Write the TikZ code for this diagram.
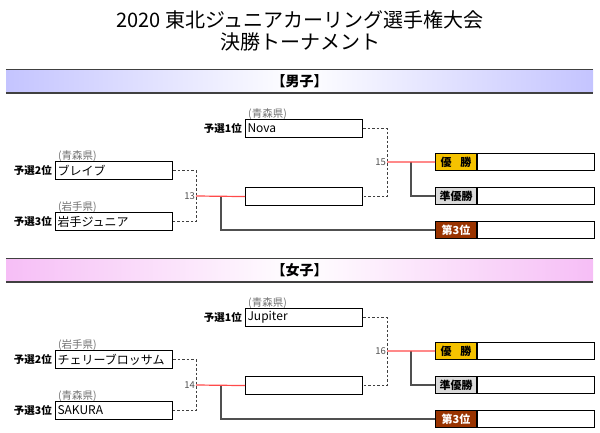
\documentclass[tikz,border=0pt]{standalone}
\usepackage{fontspec}
\setmainfont{Noto Sans CJK JP}
\definecolor{gold}{HTML}{F5C200}
\definecolor{silverbg}{HTML}{DADADA}
\definecolor{bronze}{HTML}{993300}
\definecolor{winred}{HTML}{FF4A4A}
\definecolor{conngray}{HTML}{505050}
\definecolor{dashgray}{HTML}{404040}
\definecolor{pref}{HTML}{707070}
\definecolor{menbg}{HTML}{C4C4FF}
\definecolor{womenbg}{HTML}{F6BEF6}
\begin{document}
\begin{tikzpicture}[x=1pt,y=-1pt,
  team/.style={draw=black,line width=1.1pt,fill=white,minimum height=18pt,text width=113pt,inner sep=2pt,align=left,anchor=north west,font=\fontsize{12}{12}\selectfont},
  rank/.style={anchor=east,inner sep=0pt,font=\bfseries\fontsize{10.5}{11}\selectfont},
  pref/.style={anchor=south west,inner sep=0pt,text=pref,font=\fontsize{10.5}{10.5}\selectfont},
  reslab/.style={draw=black,line width=1.1pt,minimum width=41pt,minimum height=17pt,inner sep=0pt,anchor=north west,font=\bfseries\fontsize{11}{11}\selectfont},
  resbox/.style={draw=black,line width=1.1pt,fill=white,minimum width=117pt,minimum height=17pt,inner sep=0pt,anchor=west},
  dashline/.style={draw=dashgray,line width=0.8pt,dash pattern=on 2.5pt off 2pt},
  redline/.style={draw=winred,line width=1.2pt},
  grayline/.style={draw=conngray,line width=1.2pt},
  num/.style={anchor=east,inner sep=1pt,text=conngray,font=\fontsize{9.5}{9.5}\selectfont},
  banner/.style={minimum width=587pt,minimum height=23pt,inner sep=0pt,font=\bfseries\fontsize{14}{14}\selectfont},
  title/.style={font=\fontsize{20}{20}\selectfont,inner sep=0pt}
]
\useasboundingbox (0,0) rectangle (600,433);
\node[title] (t1) at (300,20) {2020 東北ジュニアカーリング選手権大会};
\node[title] (t2) at (300,41.5) {決勝トーナメント};

% ===== Men =====
\node[banner,left color=menbg,right color=menbg,middle color=white] (mban) at (299.5,81.5) {【男子】};
\draw[draw=dashgray,line width=0.9pt] (mban.north west) -- (mban.north east);
\draw[draw=dashgray,line width=1.5pt] (mban.south west) -- (mban.south east);

\node[team] (nova) at (245,119) {Nova};
\node[team] (brave) at (55,161) {ブレイブ};
\node[team] (iwate) at (55,212) {岩手ジュニア};
\node[team] (msemi) at (245,187) {};
\node[rank] (rnova) at ([xshift=-3pt]nova.west) {予選1位};
\node[rank] (rbrave) at ([xshift=-3pt]brave.west) {予選2位};
\node[rank] (riwate) at ([xshift=-3pt]iwate.west) {予選3位};
\node[pref] (pnova) at ([xshift=3pt,yshift=-1pt]nova.north west) {(青森県)};
\node[pref] (pbrave) at ([xshift=3pt,yshift=-1pt]brave.north west) {(青森県)};
\node[pref] (piwate) at ([xshift=3pt,yshift=-1pt]iwate.north west) {(岩手県)};

\node[reslab,fill=gold] (mwin) at (435,153) {優\hspace{0.8em}勝};
\node[resbox] (mwinb) at (mwin.east) {};
\node[reslab,fill=silverbg] (mrun) at (435,187) {準優勝};
\node[resbox] (mrunb) at (mrun.east) {};
\node[reslab,fill=bronze,text=white] (mthird) at (435,221) {第3位};
\node[resbox] (mthirdb) at (mthird.east) {};

\coordinate (mj1) at (196,196);
\coordinate (mb1) at (221,196);
\coordinate (mj2) at (387,162);
\coordinate (mb2) at (411,162);
\draw[dashline] (brave.east) -| (mj1) |- (iwate.east);
\draw[grayline] (mb1) |- (mthird.west);
\draw[redline] (mj1) -- (msemi.west);
\draw[dashline] (nova.east) -| (mj2) |- (msemi.east);
\draw[grayline] (mb2) |- (mrun.west);
\draw[redline] (mj2) -- (mwin.west);
\node[num] (n13) at (mj1) {13};
\node[num] (n15) at (mj2) {15};

% ===== Women =====
\node[banner,left color=womenbg,right color=womenbg,middle color=white] (wban) at (299.5,270.5) {【女子】};
\draw[draw=dashgray,line width=0.9pt] (wban.north west) -- (wban.north east);
\draw[draw=dashgray,line width=1.5pt] (wban.south west) -- (wban.south east);

\node[team] (jup) at (245,308) {Jupiter};
\node[team] (cherry) at (55,350) {チェリーブロッサム};
\node[team] (sakura) at (55,401) {SAKURA};
\node[team] (wsemi) at (245,376) {};
\node[rank] (rjup) at ([xshift=-3pt]jup.west) {予選1位};
\node[rank] (rcherry) at ([xshift=-3pt]cherry.west) {予選2位};
\node[rank] (rsakura) at ([xshift=-3pt]sakura.west) {予選3位};
\node[pref] (pjup) at ([xshift=3pt,yshift=-1pt]jup.north west) {(青森県)};
\node[pref] (pcherry) at ([xshift=3pt,yshift=-1pt]cherry.north west) {(岩手県)};
\node[pref] (psakura) at ([xshift=3pt,yshift=-1pt]sakura.north west) {(青森県)};

\node[reslab,fill=gold] (wwin) at (435,342) {優\hspace{0.8em}勝};
\node[resbox] (wwinb) at (wwin.east) {};
\node[reslab,fill=silverbg] (wrun) at (435,376) {準優勝};
\node[resbox] (wrunb) at (wrun.east) {};
\node[reslab,fill=bronze,text=white] (wthird) at (435,410) {第3位};
\node[resbox] (wthirdb) at (wthird.east) {};

\coordinate (wj1) at (196,385);
\coordinate (wb1) at (221,385);
\coordinate (wj2) at (387,351);
\coordinate (wb2) at (411,351);
\draw[dashline] (cherry.east) -| (wj1) |- (sakura.east);
\draw[grayline] (wb1) |- (wthird.west);
\draw[redline] (wj1) -- (wsemi.west);
\draw[dashline] (jup.east) -| (wj2) |- (wsemi.east);
\draw[grayline] (wb2) |- (wrun.west);
\draw[redline] (wj2) -- (wwin.west);
\node[num] (n14) at (wj1) {14};
\node[num] (n16) at (wj2) {16};
\end{tikzpicture}
\end{document}
